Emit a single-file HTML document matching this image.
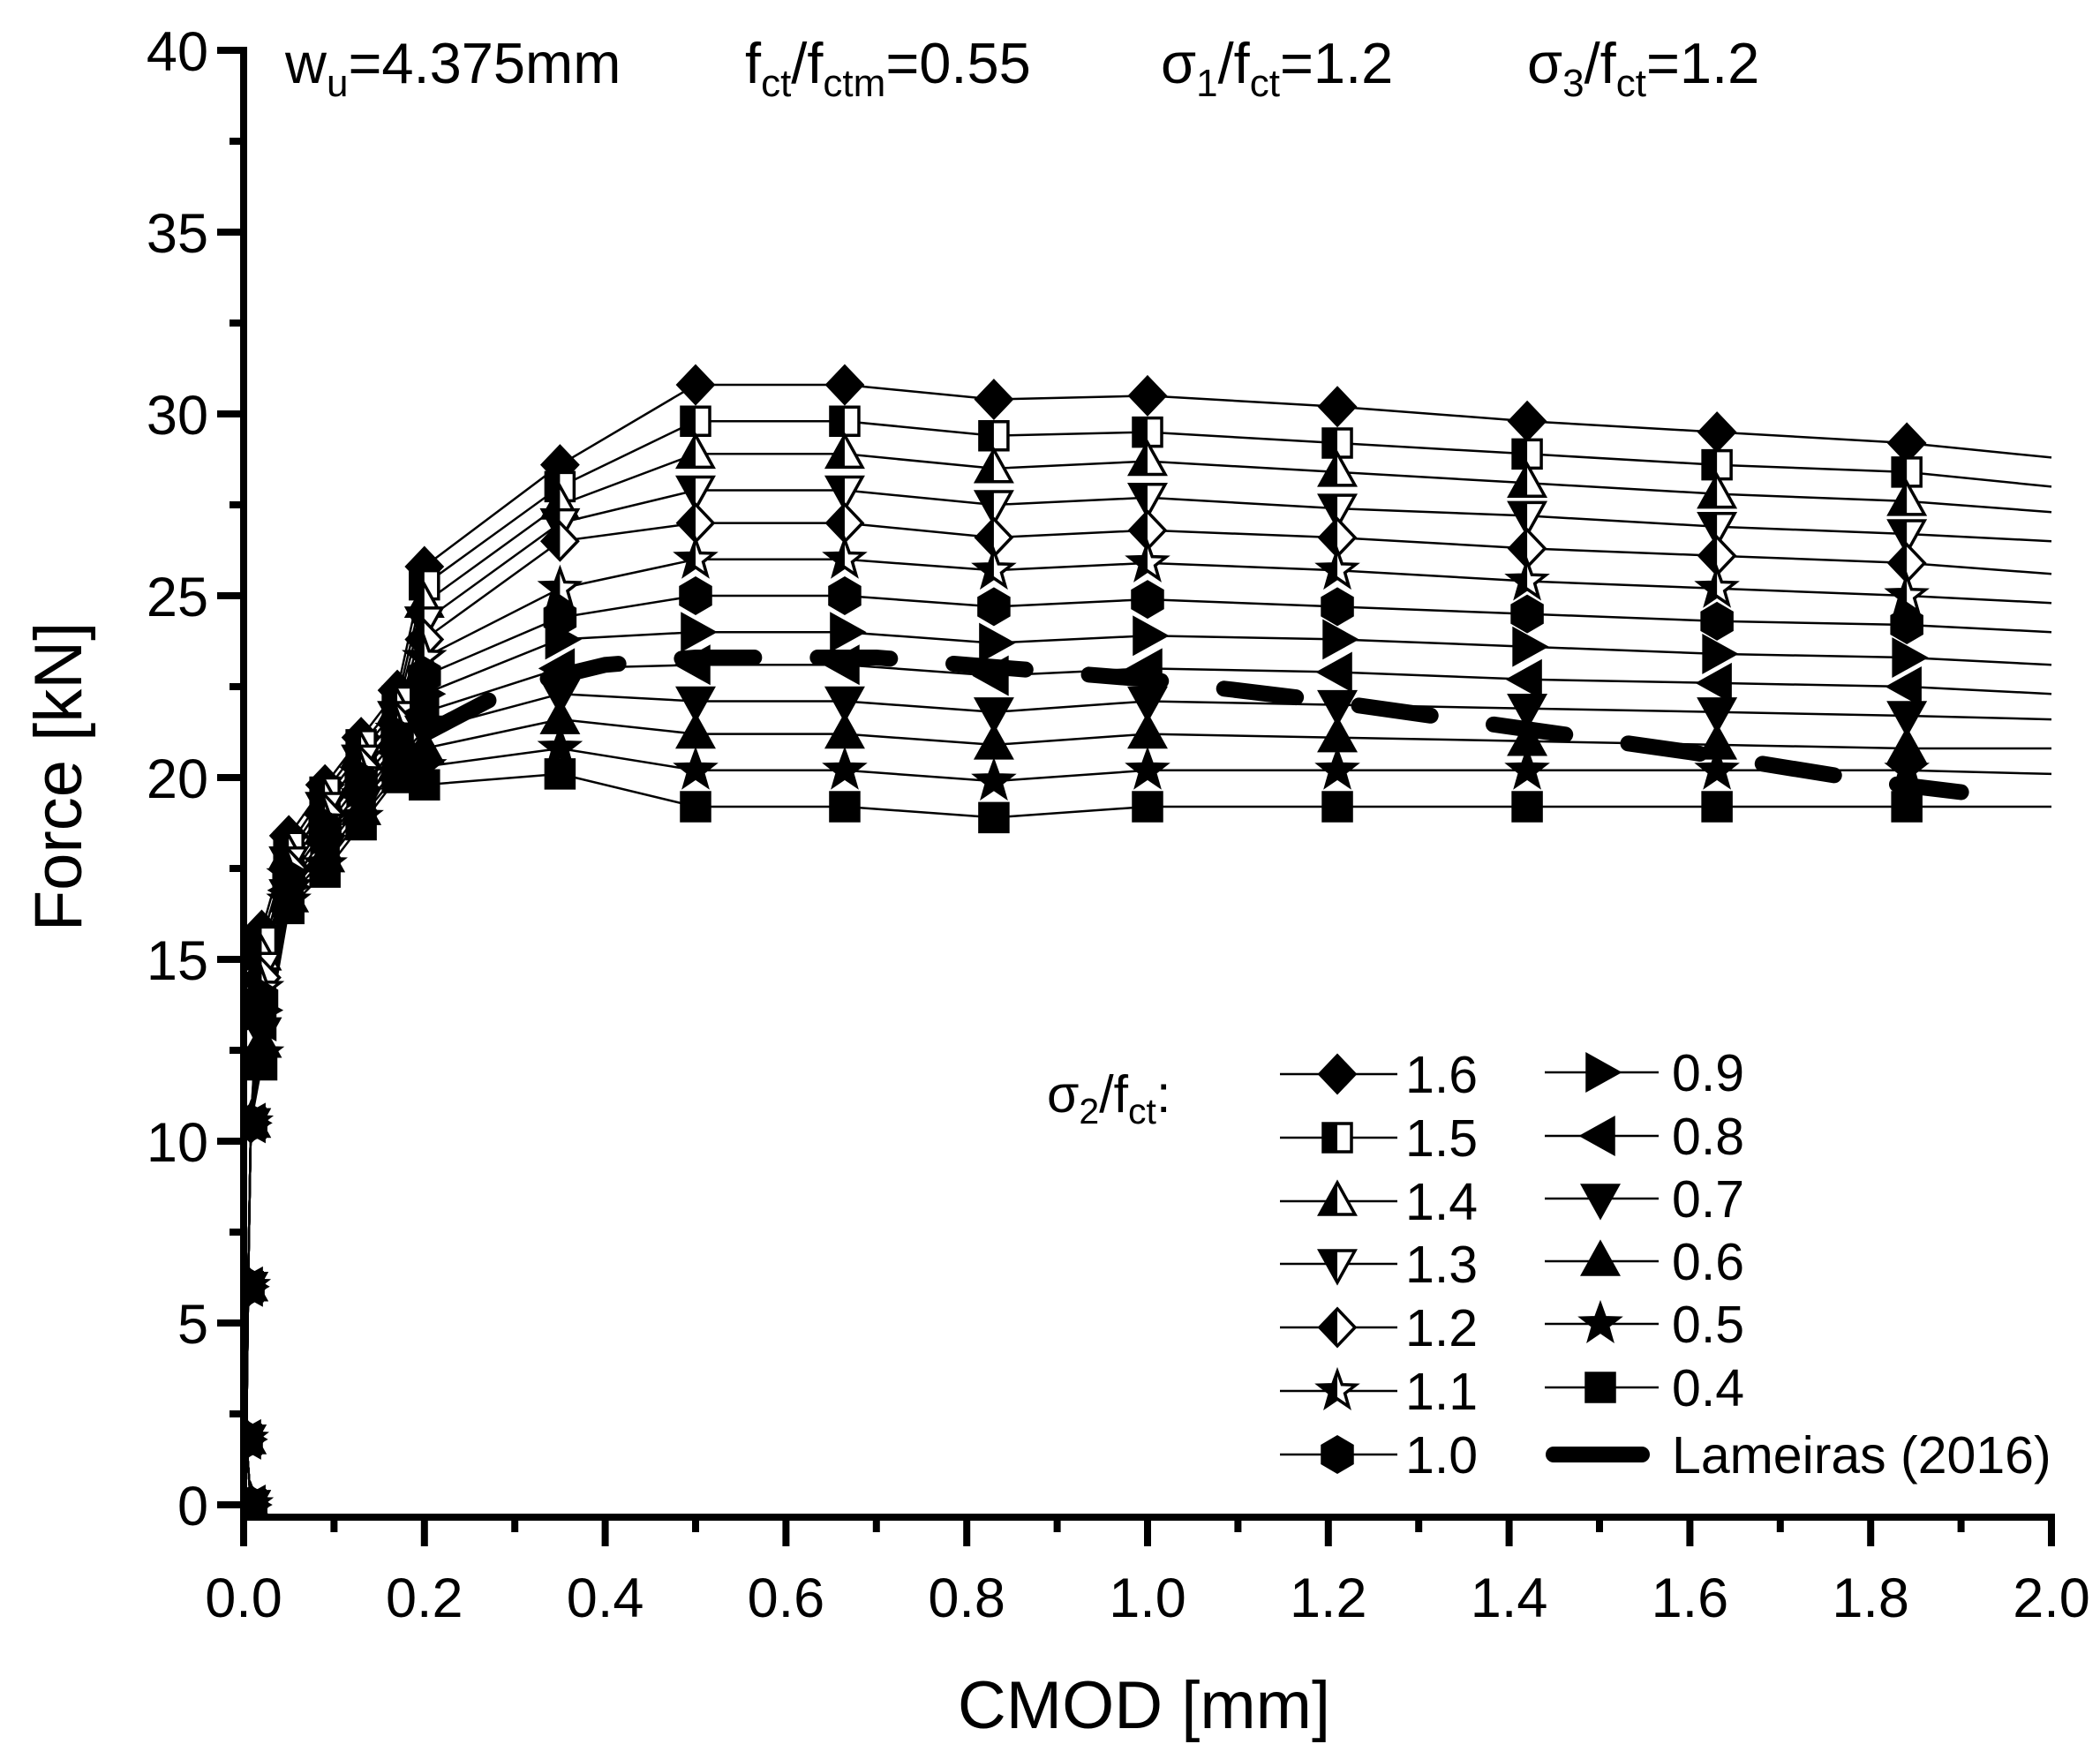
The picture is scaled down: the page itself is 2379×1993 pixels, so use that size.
<!DOCTYPE html>
<html><head><meta charset="utf-8"><style>
html,body{margin:0;padding:0;background:#fff;}
svg{display:block;font-family:"Liberation Sans",Arial,sans-serif;}
</style></head><body>
<svg id="chart" width="2379" height="1993" viewBox="0 0 2379 1993" xmlns="http://www.w3.org/2000/svg">
<defs>
<clipPath id="leftHalf"><rect x="-50" y="-50" width="50" height="100"/></clipPath>
<clipPath id="plotClip"><rect x="276" y="40" width="2050" height="1680"/></clipPath>
</defs>
<g id="axes"></g>
<g id="series" clip-path="url(#plotClip)"></g>
<g id="legend"></g>
<g font-size="65">
<text x="323" y="94">w<tspan font-size="44" dy="15">u</tspan><tspan dy="-15">=4.375mm</tspan></text>
<text x="844" y="94">f<tspan font-size="44" dy="15">ct</tspan><tspan dy="-15">/f</tspan><tspan font-size="44" dy="15">ctm</tspan><tspan dy="-15">=0.55</tspan></text>
<text x="1315" y="94">σ<tspan font-size="44" dy="15">1</tspan><tspan dy="-15">/f</tspan><tspan font-size="44" dy="15">ct</tspan><tspan dy="-15">=1.2</tspan></text>
<text x="1730" y="94">σ<tspan font-size="44" dy="15">3</tspan><tspan dy="-15">/f</tspan><tspan font-size="44" dy="15">ct</tspan><tspan dy="-15">=1.2</tspan></text>
</g>
<text x="1296" y="1958" font-size="76" text-anchor="middle">CMOD [mm]</text>
<text transform="translate(92,880) rotate(-90)" font-size="76" text-anchor="middle">Force [kN]</text>
</svg>
<script>
const xTicks = [0,0.2,0.4,0.6,0.8,1.0,1.2,1.4,1.6,1.8,2.0];
const xTickLabels = ["0.0","0.2","0.4","0.6","0.8","1.0","1.2","1.4","1.6","1.8","2.0"];
const yTicks = [0,5,10,15,20,25,30,35,40];
const yTickLabels = ["0","5","10","15","20","25","30","35","40"];
const seriesNames = ["1.6","1.5","1.4","1.3","1.2","1.1","1.0","0.9","0.8","0.7","0.6","0.5","0.4"];
const seriesMarkers = ["diamond","squareHalf","triUpHalf","triDownHalf","diamondHalf","starHalf","hexagon","triRight","triLeft","triDown","triUp","star","square"];
const cmod = [0.008,0.003,0.005,0.008,0.02,0.05,0.09,0.13,0.17,0.2,0.35,0.5,0.665,0.83,1.0,1.21,1.42,1.63,1.84,2.0];
const s16 = [0,1.8,6,10.5,15.8,18.4,19.8,21.1,22.4,25.8,28.6,30.8,30.8,30.4,30.5,30.2,29.8,29.5,29.2,28.8];
const s15 = [0,1.8,6,10.5,15.5,18.1,19.6,20.9,22.1,25.3,28.0,29.8,29.8,29.4,29.5,29.2,28.9,28.6,28.4,28.0];
const s14 = [0,1.8,6,10.5,15.1,17.9,19.4,20.7,21.9,24.8,27.5,28.9,28.9,28.5,28.7,28.4,28.1,27.8,27.6,27.3];
const s13 = [0,1.8,6,10.5,14.8,17.7,19.2,20.5,21.7,24.3,27.0,27.9,27.9,27.5,27.7,27.4,27.2,26.9,26.7,26.5];
const s12 = [0,1.8,6,10.5,14.5,17.5,19.0,20.3,21.5,23.8,26.5,27.0,27.0,26.6,26.8,26.6,26.3,26.1,25.9,25.6];
const s11 = [0,1.8,6,10.5,14.2,17.3,18.8,20.1,21.3,23.3,25.2,26.0,26.0,25.7,25.9,25.7,25.4,25.2,25.0,24.8];
const s10 = [0,1.8,6,10.5,13.9,17.2,18.6,19.9,21.1,22.8,24.4,25.0,25.0,24.7,24.9,24.7,24.5,24.3,24.2,24.0];
const s09 = [0,1.8,6,10.5,13.6,17.0,18.4,19.7,20.9,22.3,23.8,24.0,24.0,23.7,23.9,23.8,23.6,23.4,23.3,23.1];
const s08 = [0,1.8,6,10.5,13.3,16.9,18.2,19.5,20.7,21.8,23.0,23.1,23.1,22.8,23.0,22.9,22.7,22.6,22.5,22.3];
const s07 = [0,1.8,6,10.5,13.0,16.8,18.0,19.3,20.5,21.3,22.3,22.1,22.1,21.8,22.1,22.0,21.9,21.8,21.7,21.6];
const s06 = [0,1.8,6,10.5,12.7,16.7,17.8,19.1,20.3,20.8,21.6,21.2,21.2,20.9,21.2,21.1,21.0,20.9,20.8,20.8];
const s05 = [0,1.8,6,10.5,12.4,16.6,17.6,18.9,20.1,20.3,20.8,20.2,20.2,19.9,20.2,20.2,20.2,20.2,20.2,20.1];
const s04 = [0,1.8,6,10.5,12.1,16.4,17.4,18.7,20.0,19.8,20.1,19.2,19.2,18.9,19.2,19.2,19.2,19.2,19.2,19.2];
const lamX = [0.2,0.3,0.4,0.5,0.7,0.9,1.0,1.2,1.4,1.6,1.7,1.8,1.9];
const lamY = [21.2,22.5,23.1,23.3,23.3,22.9,22.7,22.1,21.4,20.7,20.3,19.9,19.6];

const allSeries = [s16,s15,s14,s13,s12,s11,s10,s09,s08,s07,s06,s05,s04];
const NS = "http://www.w3.org/2000/svg";
const X0 = 276, XS = 1024, Y0 = 1705, YS = 41.2;
function xPos(v){ return X0 + v*XS; }
function yPos(v){ return Y0 - v*YS; }
function mk(tag, attrs, parent){ const e=document.createElementNS(NS,tag); for(const k in attrs) e.setAttribute(k,attrs[k]); parent.appendChild(e); return e; }

const axes = document.getElementById('axes');
const yAxis = mk('line',{x1:X0,y1:yPos(40)-4,x2:X0,y2:1723,stroke:'#000','stroke-width':8},axes);


const xAxis = mk('line',{x1:X0-4,y1:1719,x2:xPos(2)+4,y2:1719,stroke:'#000','stroke-width':8},axes);


xTicks.forEach((v,i)=>{
  const t = mk('line',{x1:xPos(v),y1:1719,x2:xPos(v),y2:1752,stroke:'#000','stroke-width':8},axes);
  
  
  const l = mk('text',{x:xPos(v),y:1832,'font-size':63,'text-anchor':'middle'},axes);
  l.textContent = xTickLabels[i];
  
  
  if(i<xTicks.length-1){
    const m = mk('line',{x1:xPos(v+0.1),y1:1719,x2:xPos(v+0.1),y2:1736,stroke:'#000','stroke-width':8},axes);
    
    
  }
});
yTicks.forEach((v,i)=>{
  const t = mk('line',{x1:X0-30,y1:yPos(v),x2:X0,y2:yPos(v),stroke:'#000','stroke-width':8},axes);
  
  
  const l = mk('text',{x:X0-40,y:yPos(v)+23,'font-size':63,'text-anchor':'end'},axes);
  l.textContent = yTickLabels[i];
  
  
  if(i<yTicks.length-1){
    const m = mk('line',{x1:X0-16,y1:yPos(v+2.5),x2:X0,y2:yPos(v+2.5),stroke:'#000','stroke-width':8},axes);
    
    
  }
});

function shapePath(type){
  switch(type){
    case 'diamond': case 'diamondHalf': return 'M0,-21 L20,0 L0,21 L-20,0 Z';
    case 'square': case 'squareHalf': return 'M-16,-16 H16 V16 H-16 Z';
    case 'triUp': case 'triUpHalf': return 'M0,-21 L20,15 L-20,15 Z';
    case 'triDown': case 'triDownHalf': return 'M0,21 L20,-15 L-20,-15 Z';
    case 'triRight': return 'M21,0 L-15,-20 L-15,20 Z';
    case 'triLeft': return 'M-21,0 L15,-20 L15,20 Z';
    case 'hexagon': return 'M0,-20 L17,-10 L17,10 L0,20 L-17,10 L-17,-10 Z';
    default: { let d=''; for(let k=0;k<10;k++){ const r=k%2?9:22; const a=-Math.PI/2+k*Math.PI/5; d+=(k?'L':'M')+(r*Math.cos(a)).toFixed(1)+','+(r*Math.sin(a)).toFixed(1);} return d+'Z'; }
  }
}
function drawMarker(parent,type,x,y,name){
  const g = mk('g',{transform:`translate(${x},${y})`},parent);
  
  
  const d = shapePath(type);
  const half = /Half/.test(type);
  mk('path',{d:d,fill:half?'#fff':'#000',stroke:'#000','stroke-width':3.5,'stroke-linejoin':'miter'},g);
  if(half) mk('path',{d:d,fill:'#000','clip-path':'url(#leftHalf)'},g);
}

const sg = document.getElementById('series');
allSeries.forEach((ys,si)=>{
  const g = mk('g',{},sg);
  
  
  const pts = cmod.map((x,i)=>xPos(x).toFixed(1)+','+yPos(ys[i]).toFixed(1)).join(' ');
  const pl = mk('polyline',{points:pts,fill:'none',stroke:'#000','stroke-width':2.5},g);
  
  
});
const lam = mk('polyline',{points:lamX.map((x,i)=>xPos(x).toFixed(1)+','+yPos(lamY[i]).toFixed(1)).join(' '),fill:'none',stroke:'#000','stroke-width':18,'stroke-dasharray':'82 72','stroke-linecap':'round'},sg);


allSeries.forEach((ys,si)=>{
  cmod.forEach((x,i)=>{
    if(i===cmod.length-1) return;
    drawMarker(sg,seriesMarkers[si],xPos(x),yPos(ys[i]),'point-'+seriesNames[si].replace('.','-'));
  });
});

const lg = document.getElementById('legend');
const lt = mk('text',{x:1186,y:1260,'font-size':59},lg);
lt.innerHTML = 'σ<tspan font-size="41" dy="13">2</tspan><tspan dy="-13">/f</tspan><tspan font-size="41" dy="13">ct</tspan><tspan dy="-13">:</tspan>';


const col1Y = [1217,1289,1361,1432,1504,1576,1648];
const col2Y = [1215,1287,1358,1429,1500,1572,1648];
seriesNames.forEach((n,si)=>{
  const c = si<7 ? 0 : 1;
  const y = c===0 ? col1Y[si] : col2Y[si-7];
  const lx1 = c===0?1450:1750, lx2 = c===0?1583:1879, mx = c===0?1515:1813, tx = c===0?1592:1894;
  const g = mk('g',{},lg);
  
  
  mk('line',{x1:lx1,y1:y,x2:lx2,y2:y,stroke:'#000','stroke-width':2.5},g);
  drawMarker(g,seriesMarkers[si],mx,y,'legend-marker');
  const t = mk('text',{x:tx,y:y+21,'font-size':59},g);
  t.textContent = n;
});
const lgl = mk('g',{},lg);


mk('line',{x1:1760,y1:1648,x2:1860,y2:1648,stroke:'#000','stroke-width':18,'stroke-linecap':'round'},lgl);
const ltx = mk('text',{x:1894,y:1669,'font-size':59},lgl);
ltx.textContent = 'Lameiras (2016)';
</script>
</body></html>
